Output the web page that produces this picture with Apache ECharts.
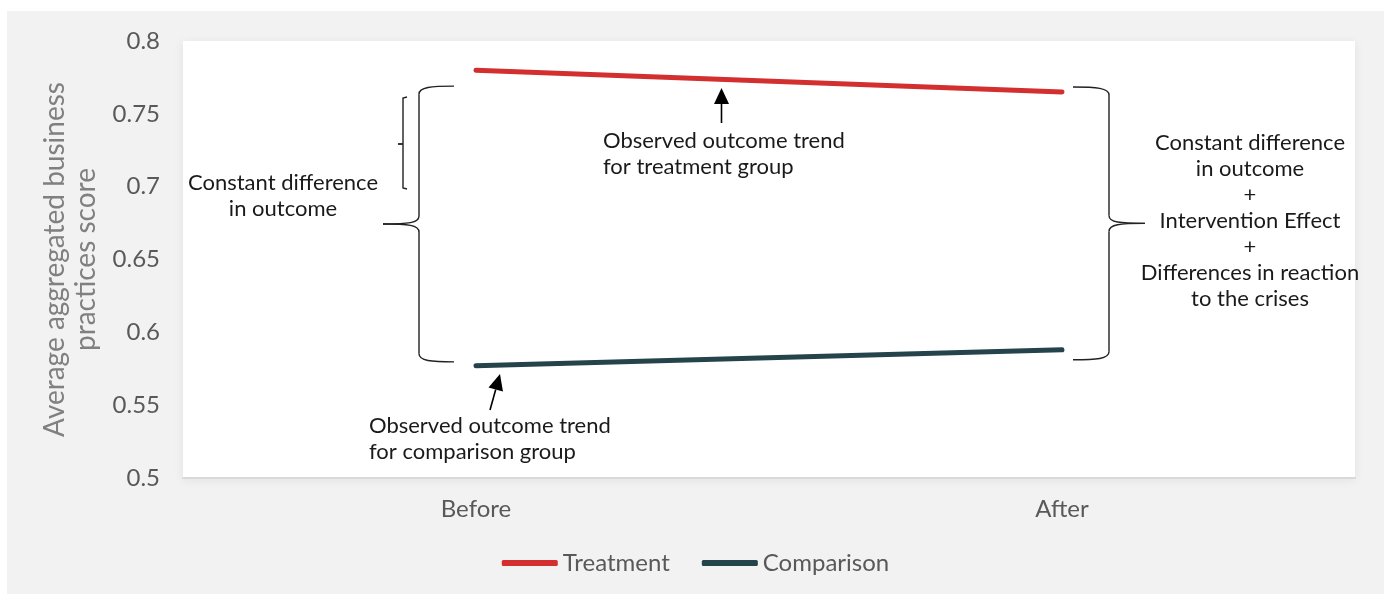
<!DOCTYPE html>
<html>
<head>
<meta charset="utf-8">
<script src="https://cdn.jsdelivr.net/npm/echarts@6/dist/echarts.min.js"></script>
<style>
  html, body { margin: 0; padding: 0; background: #ffffff; }
  #chart { position: absolute; left: 7px; top: 11px; width: 1377px; height: 583px; }
</style>
</head>
<body>
<div id="chart"></div>
<script>
// Periods on the x axis
const categories = ['Before', 'After'];
// Average aggregated business practices score per group
const treatment = [0.780, 0.765];
const comparison = [0.577, 0.588];
// Value axis range and step
const yMin = 0.5;
const yMax = 0.8;
const yStep = 0.05;

const FONT = 'Lato';
const INK = '#1a1a1a';

const chart = echarts.init(document.getElementById('chart'), null, { renderer: 'canvas' });

chart.setOption({
  backgroundColor: '#f2f2f2',
  animation: false,
  textStyle: { fontFamily: FONT },
  grid: {
    left: 176, right: 29, top: 30, bottom: 116,
    show: true,
    backgroundColor: '#ffffff',
    borderWidth: 0,
    shadowBlur: 10,
    shadowColor: 'rgba(0,0,0,0.07)',
    shadowOffsetY: 2
  },
  legend: {
    left: 'center',
    top: 535,
    icon: 'roundRect',
    itemWidth: 56,
    itemHeight: 6,
    itemGap: 32,
    textStyle: { fontFamily: FONT, fontSize: 24, color: '#595959' },
    data: ['Treatment', 'Comparison']
  },
  xAxis: {
    type: 'category',
    data: categories,
    boundaryGap: true,
    axisLine: { show: true, lineStyle: { color: '#d9d9d9', width: 2 } },
    axisTick: { show: false },
    axisLabel: { fontFamily: FONT, fontSize: 24, color: '#595959', margin: 19 },
    splitLine: { show: false }
  },
  yAxis: {
    type: 'value',
    min: yMin,
    max: yMax,
    interval: yStep,
    name: 'Average aggregated business\npractices score',
    nameLocation: 'middle',
    nameRotate: 90,
    nameGap: 76,
    nameTextStyle: { fontFamily: FONT, fontSize: 28, color: '#808080', lineHeight: 31 },
    axisLine: { show: false },
    axisTick: { show: false },
    splitLine: { show: false },
    axisLabel: { fontFamily: FONT, fontSize: 24, color: '#595959', margin: 23 }
  },
  series: [
    {
      name: 'Treatment',
      type: 'line',
      data: treatment,
      symbol: 'none',
      color: '#d32f2f',
      lineStyle: { color: '#d32f2f', width: 5, cap: 'round' },
      z: 5
    },
    {
      name: 'Comparison',
      type: 'line',
      data: comparison,
      symbol: 'none',
      color: '#25434a',
      lineStyle: { color: '#25434a', width: 5, cap: 'round' },
      z: 5
    }
  ]
});

// ---- annotations: braces, arrows and explanatory notes ----
const px = (cat, v) => chart.convertToPixel({ xAxisIndex: 0, yAxisIndex: 0 }, [cat, v]);
const tB = px('Before', treatment[0]);
const cB = px('Before', comparison[0]);
const tA = px('After', treatment[1]);
const cA = px('After', comparison[1]);

const stroke = { stroke: '#222', lineWidth: 1.4, fill: null };

// curly brace: vertical spine at X, arms reach armX, point reaches tipX
function brace(X, armX, tipX, topY, botY) {
  const midY = (topY + botY) / 2;
  const r = 8;
  return [
    { type: 'bezierCurve', shape: { x1: armX, y1: topY, cpx1: X + (armX - X) * 0.35, cpy1: topY, cpx2: X, cpy2: topY + 1, x2: X, y2: topY + r }, style: stroke },
    { type: 'line', shape: { x1: X, y1: topY + r, x2: X, y2: midY - r }, style: stroke },
    { type: 'bezierCurve', shape: { x1: X, y1: midY - r, cpx1: X, cpy1: midY - 1, cpx2: X + (tipX - X) * 0.3, cpy2: midY, x2: tipX, y2: midY }, style: stroke },
    { type: 'bezierCurve', shape: { x1: tipX, y1: midY, cpx1: X + (tipX - X) * 0.3, cpy1: midY, cpx2: X, cpy2: midY + 1, x2: X, y2: midY + r }, style: stroke },
    { type: 'line', shape: { x1: X, y1: midY + r, x2: X, y2: botY - r }, style: stroke },
    { type: 'bezierCurve', shape: { x1: X, y1: botY - r, cpx1: X, cpy1: botY - 1, cpx2: X + (armX - X) * 0.35, cpy2: botY, x2: armX, y2: botY }, style: stroke }
  ];
}

// arrow with filled head pointing at (x2, y2)
function arrow(x1, y1, x2, y2) {
  const dx = x2 - x1, dy = y2 - y1;
  const len = Math.hypot(dx, dy);
  const ux = dx / len, uy = dy / len;
  const hl = 16, hw = 7.5;
  const bx = x2 - ux * hl, by = y2 - uy * hl;
  return [
    { type: 'line', shape: { x1: x1, y1: y1, x2: bx, y2: by }, style: { stroke: '#000', lineWidth: 1.6 } },
    { type: 'polygon', shape: { points: [[x2, y2], [bx - uy * hw, by + ux * hw], [bx + uy * hw, by - ux * hw]] }, style: { fill: '#000' } }
  ];
}

function note(x, y, text, align) {
  return {
    type: 'text', x: x, y: y, z: 20,
    style: {
      text: text, fill: INK, fontFamily: FONT, fontSize: 22, lineHeight: 26,
      align: align, verticalAlign: 'middle'
    }
  };
}

const xB = tB[0], xA = tA[0];
const elements = [];

// large brace at Before spanning both groups
elements.push(...brace(xB - 57, xB - 22, xB - 93, tB[1] + 16, cB[1] - 4));
// large brace at After spanning both groups
elements.push(...brace(xA + 47, xA + 11, xA + 83, tA[1] - 5, cA[1] + 10));

// small square bracket next to the Before brace
const sbX = xB - 73, sbTop = 86, sbBot = 178, sbMid = 133;
elements.push({ type: 'polyline', shape: { points: [[sbX + 4, sbTop], [sbX, sbTop + 1], [sbX, sbBot - 1], [sbX + 4, sbBot]] }, style: stroke });
elements.push({ type: 'line', shape: { x1: sbX - 5, y1: sbMid, x2: sbX, y2: sbMid }, style: { stroke: '#222', lineWidth: 1.8 } });

// arrows pointing at the two trend lines
elements.push(...arrow(714.5, 112, 714.5, 77));
elements.push(...arrow(483, 399, 493, 363));

// explanatory notes
elements.push(note(596, 143, 'Observed outcome trend\nfor treatment group', 'left'));
elements.push(note(276, 185, 'Constant difference\nin outcome', 'center'));
elements.push(note(362, 428, 'Observed outcome trend\nfor comparison group', 'left'));
elements.push(note(1243, 210, 'Constant difference\nin outcome\n+\nIntervention Effect\n+\nDifferences in reaction\nto the crises', 'center'));

elements.forEach(e => { if (e.z == null) e.z = 15; e.silent = true; });

chart.setOption({ graphic: { elements: elements } });
</script>
</body>
</html>
